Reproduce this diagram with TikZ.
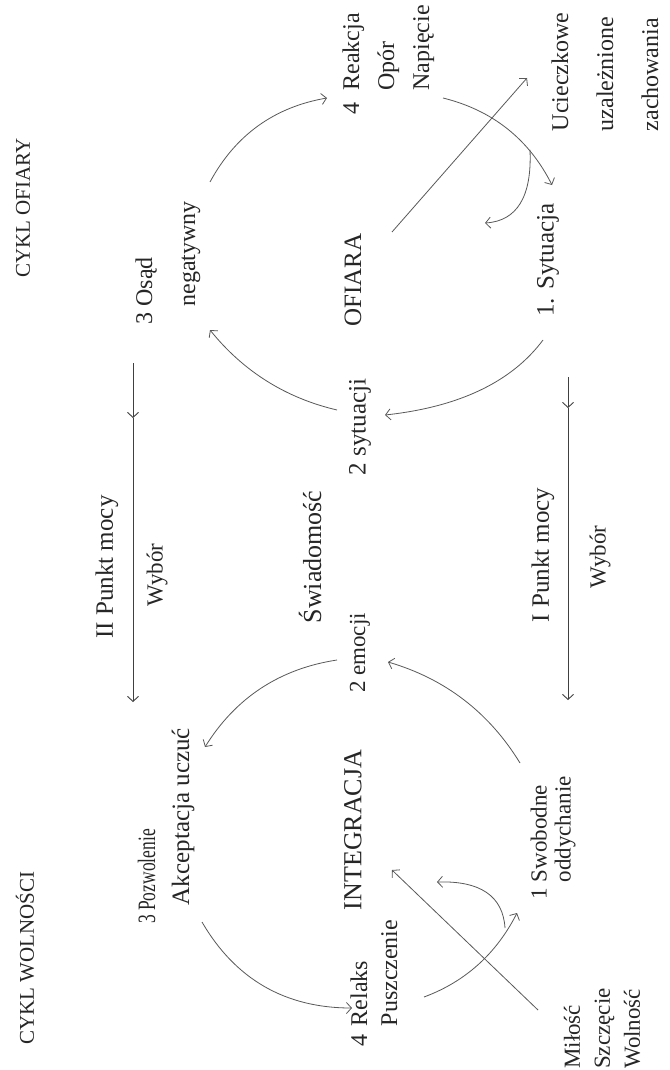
\documentclass[tikz,border=0pt]{standalone}
\usepackage{fontspec}
\setmainfont{Liberation Serif}
\usetikzlibrary{arrows.meta}
\newcommand{\fs}[2]{\fontsize{#1}{#2}\selectfont}
\begin{document}
\begin{tikzpicture}[x=1pt,y=-1pt,
  lbl/.style={rotate=90, inner sep=0pt, align=left, text=black!85},
  cyc/.style={draw=black!65, line width=0.8pt, -{Straight Barb[length=5pt,width=11pt]}},
  pline/.style={draw=black!75, line width=0.9pt, -{Straight Barb[length=5pt,width=11pt]}}
]
\useasboundingbox[fill=white] (0,0) rectangle (669,1070);

% ---------- labels, upper cycle ----------
\node[lbl, font=\fs{21}{25}] (cyklo) at (23,208) {CYKL OFIARY};
\node[lbl, font=\fs{24}{43}] (osad) at (168,263) {3 Osąd\\\hphantom{3 }negatywny};
\node[lbl, font=\fs{24}{35}] (reak) at (387,60) {\begin{tabular}{@{}l@{\hspace{12pt}}l@{}}4&Reakcja\\&Opór\\&Napięcie\end{tabular}};
\node[lbl, font=\fs{24}{45}] (ucie) at (605,72) {Ucieczkowe\\uzależnione\\zachowania};
\node[lbl, font=\fs{25}{30}] (ofiara) at (353,280) {OFIARA};
\node[lbl, font=\fs{25}{30}] (syt1) at (548,260) {1. Sytuacja};
\node[lbl, font=\fs{25}{30}] (syt2) at (360,427) {2 sytuacji};

% ---------- middle ----------
\node[lbl, font=\fs{25}{30}] (pm2) at (107,567) {II Punkt mocy};
\node[lbl, font=\fs{23}{30}] (wyb2) at (157,575) {Wybór};
\node[lbl, font=\fs{26}{30}] (swiad) at (310,557) {Świadomość};
\node[lbl, font=\fs{25}{30}] (pm1) at (543,555) {I Punkt mocy};
\node[lbl, font=\fs{23}{30}] (wyb1) at (600,557) {Wybór};

% ---------- labels, lower cycle ----------
\node[lbl, font=\fs{23}{30}] (emo) at (360,653) {2 emocji};
\node[lbl, font=\fs{21}{25}] (cyklw) at (25,958) {CYKL WOLNOŚCI};
\node[lbl, font=\fs{25}{34}] (pozw) at (166,826) {\scalebox{0.7}[1]{3 Pozwolenie}\\\hphantom{3 }Akceptacja uczuć};
\node[lbl, font=\fs{26}{30}] (integ) at (353,830) {INTEGRACJA};
\node[lbl, font=\fs{23}{24}] (swob) at (553,838) {1 Swobodne\\\hphantom{1 }oddychanie};
\node[lbl, font=\fs{24}{30}] (relaks) at (376,983) {\begin{tabular}{@{}l@{\hspace{8pt}}l@{}}4&Relaks\\&Puszczenie\end{tabular}};
\node[lbl, font=\fs{23}{30}, anchor=west] (milosc) at (602,1069) {Miłość\\Szczęcie\\Wolność};

% ---------- connector end points ----------
\coordinate (a1s) at (543,340); \coordinate (a1e) at (385,415);
\coordinate (a2s) at (337,410); \coordinate (a2e) at (210,330);
\coordinate (a3s) at (210,182); \coordinate (a3e) at (327,98);
\coordinate (a4s) at (443,98);  \coordinate (a4e) at (552,185);
\coordinate (sts) at (530,150); \coordinate (ste) at (485,223);
\coordinate (tls) at (392,232); \coordinate (tle) at (527,78);

\coordinate (b1s) at (520,763); \coordinate (b1e) at (388,662);
\coordinate (b2s) at (337,660); \coordinate (b2e) at (205,747);
\coordinate (b3s) at (202,922); \coordinate (b3e) at (352,1008);
\coordinate (b4s) at (424,997); \coordinate (b4e) at (517,913);
\coordinate (sbs) at (505,928); \coordinate (sbe) at (437,882);
\coordinate (bls) at (538,1010); \coordinate (ble) at (392,870);

\coordinate (p2a) at (133,363); \coordinate (p2m) at (133,418); \coordinate (p2b) at (133,702);
\coordinate (p1a) at (568,377); \coordinate (p1m) at (568,408); \coordinate (p1b) at (568,700);

% ---------- upper cycle ----------
\draw[cyc] (a1s) .. controls (511.7,382) and (459,407) .. (a1e);
\draw[cyc] (a2s) .. controls (285.7,398) and (243.3,371.3) .. (a2e);
\draw[cyc] (a3s) .. controls (235.3,135.1) and (274.3,107.1) .. (a3e);
\draw[cyc] (a4s) .. controls (492.7,110.3) and (529,139.3) .. (a4e);
\draw[cyc] (sts) .. controls (532,196.7) and (517,221) .. (ste);
\draw[cyc] (tls) -- (tle);

% ---------- lower cycle ----------
\draw[cyc] (b1s) .. controls (489,712.3) and (445,678.7) .. (b1e);
\draw[cyc] (b2s) .. controls (279.7,668.7) and (235.7,697.7) .. (b2e);
\draw[cyc] (b3s) .. controls (235.3,979.3) and (285.3,1008) .. (b3e);
\draw[cyc] (b4s) .. controls (465.3,981.7) and (496.3,953.7) .. (b4e);
\draw[cyc] (sbs) .. controls (503,896) and (480.3,880.7) .. (sbe);
\draw[cyc] (bls) -- (ble);

% ---------- power points ----------
\draw[pline] (p2a) -- (p2m);
\draw[pline] (p2m) -- (p2b);
\draw[pline] (p1a) -- (p1m);
\draw[pline] (p1m) -- (p1b);
\end{tikzpicture}
\end{document}
